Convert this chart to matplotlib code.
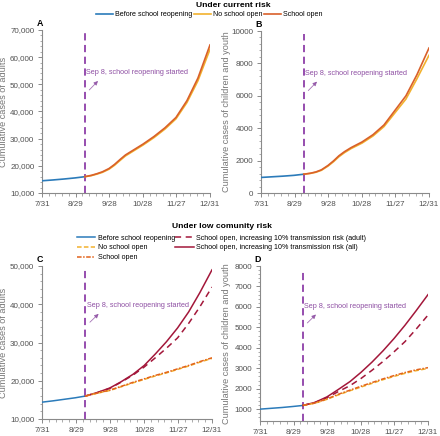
import matplotlib
matplotlib.use("Agg")
import matplotlib.pyplot as plt
from matplotlib.ticker import AutoMinorLocator, FuncFormatter
from matplotlib.lines import Line2D

plt.rcParams['font.family'] = ['Liberation Sans', 'DejaVu Sans']

# ---------------- data ----------------
tick_labels = ["7/31", "8/29", "9/28", "10/28", "11/27", "12/31"]
day_end = 153
reopen_day = 39

days_before = [0, 10, 20, 30, 39]
days_after_ab = [39, 45, 50, 55, 61, 66, 71, 76, 82, 92, 102, 112, 122, 132, 142, 153]
days_after_cd = [39, 50, 61, 71, 82, 92, 102, 112, 122, 132, 142, 153]

# Panel A: adults, current risk
a_before = [14500, 14800, 15150, 15550, 16000]
a_no_school = [16000, 16400, 16950, 17600, 18750, 20200, 21950, 23650, 25150, 27650,
               30400, 33550, 37300, 43300, 51300, 62900]
a_school = [16000, 16500, 17100, 17800, 19000, 20500, 22300, 24000, 25500, 28000,
            30800, 34000, 37800, 44000, 52300, 64500]

# Panel B: children and youth, current risk
b_before = [960, 1000, 1040, 1090, 1160]
b_no_school = [1160, 1210, 1280, 1400, 1660, 1930, 2240, 2490, 2740, 3080,
               3520, 4100, 4950, 5800, 7050, 8500]
b_school = [1160, 1220, 1300, 1430, 1700, 1980, 2300, 2550, 2800, 3150,
            3600, 4200, 5100, 6000, 7300, 8950]

# Panel C: adults, low community risk
c_before = [14400, 14750, 15150, 15550, 16000]
c_no_school = [16000, 16750, 17450, 18400, 19450, 20350, 21250, 22050, 22950, 23850, 24850, 25850]
c_school = [16000, 16800, 17550, 18500, 19600, 20500, 21400, 22200, 23100, 24000, 25000, 26000]
c_adult10 = [16000, 16900, 18000, 19600, 21500, 23600, 26000, 28500, 31200, 35000, 39300, 44500]
c_all10 = [16000, 16950, 18100, 19700, 21700, 24000, 27000, 30200, 33800, 38000, 43000, 49000]

# Panel D: children and youth, low community risk
d_before = [1000, 1040, 1080, 1130, 1180]
d_no_school = [1180, 1290, 1480, 1690, 1900, 2080, 2260, 2440, 2600, 2750, 2880, 2990]
d_school = [1180, 1300, 1500, 1720, 1930, 2120, 2300, 2480, 2640, 2790, 2920, 3030]
d_adult10 = [1180, 1320, 1560, 1850, 2150, 2500, 2900, 3330, 3800, 4300, 4900, 5600]
d_all10 = [1180, 1330, 1600, 1950, 2350, 2800, 3300, 3850, 4450, 5100, 5800, 6600]

# ---------------- style ----------------
BLUE = "#2B7BBA"
YELLOW = "#F2B22E"
ORANGE = "#D9602A"
ORANGE_DD = "#E2631C"
DARKRED = "#A3173A"
PURPLE = "#8E3FA8"
TEXT_PURPLE = "#8E4FA3"
GRAY = "#8a8a8a"
TICK = "#505050"

W, H = 440, 436
fig = plt.figure(figsize=(W / 100, H / 100), dpi=100)
fig.patch.set_facecolor("white")


def px_axes(l, t, r, b):
    return fig.add_axes([l / W, 1 - b / H, (r - l) / W, (b - t) / H])


def style(ax, ylim, yticks, comma, ylabel, letter, ylab_x):
    ax.set_xlim(0, day_end)
    ax.set_ylim(*ylim)
    xt = [day_end * i / 5 for i in range(6)]
    ax.set_xticks(xt)
    ax.set_xticklabels(tick_labels)
    ax.set_yticks(yticks)
    if comma:
        ax.yaxis.set_major_formatter(FuncFormatter(lambda v, p: f"{int(v):,}"))
    else:
        ax.yaxis.set_major_formatter(FuncFormatter(lambda v, p: f"{int(v)}"))
    ax.xaxis.set_minor_locator(AutoMinorLocator(5))
    ax.yaxis.set_minor_locator(AutoMinorLocator(5))
    for s in ["top", "right"]:
        ax.spines[s].set_visible(False)
    for s in ["left", "bottom"]:
        ax.spines[s].set_color(GRAY)
        ax.spines[s].set_linewidth(0.8)
    ax.tick_params(axis="both", which="major", labelsize=5.8, colors=GRAY,
                   labelcolor=TICK, length=3, width=0.7, pad=2.5)
    ax.tick_params(axis="both", which="minor", colors=GRAY, length=1.8, width=0.5)
    ax.set_ylabel(ylabel, fontsize=6.6, color="#777777")
    ax.yaxis.set_label_coords(ylab_x, 0.5)
    ax.text(-0.015, 1.01, letter, transform=ax.transAxes, fontsize=6.4,
            fontweight="bold", ha="center", va="bottom")
    ax.axvline(reopen_day, color=PURPLE, lw=1.3, ls=(0, (4, 2.5)), ymax=0.98, zorder=1)
    ax.annotate("", xy=(0.345, 0.70), xytext=(0.27, 0.62), xycoords="axes fraction",
                arrowprops=dict(arrowstyle="-|>", color=TEXT_PURPLE, lw=0.6,
                                mutation_scale=6, alpha=0.8))
    ax.text(0.262, 0.74, "Sep 8, school reopening started", transform=ax.transAxes,
            fontsize=5.2, color=TEXT_PURPLE, va="center", ha="left")


# Panel A
axA = px_axes(42, 30, 210, 193)
axA.plot(days_before, a_before, color=BLUE, lw=1.2, zorder=3)
axA.plot(days_after_ab, a_no_school, color=YELLOW, lw=1.2, zorder=3)
axA.plot(days_after_ab, a_school, color=ORANGE, lw=1.2, zorder=3)
style(axA, (10000, 70000), range(10000, 70001, 10000), True,
      "Cumulative cases of adults", "A", -0.2)

# Panel B
axB = px_axes(261, 31, 429, 193)
axB.plot(days_before, b_before, color=BLUE, lw=1.2, zorder=3)
axB.plot(days_after_ab, b_no_school, color=YELLOW, lw=1.2, zorder=3)
axB.plot(days_after_ab, b_school, color=ORANGE, lw=1.2, zorder=3)
style(axB, (0, 10000), range(0, 10001, 2000), False,
      "Cumulative cases of children and youth", "B", -0.18)

ls_no = (0, (3, 1.5))
ls_sch = (0, (3, 1, 1, 1))
ls_adult = (0, (4, 3))

# Panel C
axC = px_axes(42, 266, 212, 419)
axC.plot(days_before, c_before, color=BLUE, lw=1.1, zorder=3)
axC.plot(days_after_cd, c_all10, color=DARKRED, lw=1.1, zorder=3)
axC.plot(days_after_cd, c_adult10, color=DARKRED, lw=1.1, ls=ls_adult, zorder=3)
axC.plot(days_after_cd, c_no_school, color=YELLOW, lw=1.1, ls=ls_no, zorder=3)
axC.plot(days_after_cd, c_school, color=ORANGE_DD, lw=1.1, ls=ls_sch, zorder=3)
style(axC, (10000, 50000), range(10000, 50001, 10000), True,
      "Cumulative cases of adults", "C", -0.2)

# Panel D
axD = px_axes(260, 266, 428, 421)
axD.plot(days_before, d_before, color=BLUE, lw=1.1, zorder=3)
axD.plot(days_after_cd, d_all10, color=DARKRED, lw=1.1, zorder=3)
axD.plot(days_after_cd, d_adult10, color=DARKRED, lw=1.1, ls=ls_adult, zorder=3)
axD.plot(days_after_cd, d_no_school, color=YELLOW, lw=1.1, ls=ls_no, zorder=3)
axD.plot(days_after_cd, d_school, color=ORANGE_DD, lw=1.1, ls=ls_sch, zorder=3)
style(axD, (420, 8000), range(1000, 8001, 1000), False,
      "Cumulative cases of children and youth", "D", -0.175)

# Titles and legends
fig.text(233 / W, 1 - 5.5 / H, "Under current risk", fontsize=6.1, fontweight="bold",
         ha="center", va="center")
h_top = [Line2D([], [], color=BLUE, lw=1.2),
         Line2D([], [], color=YELLOW, lw=1.2),
         Line2D([], [], color=ORANGE, lw=1.2)]
fig.legend(h_top, ["Before school reopening", "No school open", "School open"],
           loc="center left", bbox_to_anchor=(96 / W, 1 - 14.5 / H), ncol=3, frameon=False,
           fontsize=5.1, handlelength=2.4, handletextpad=0.3, columnspacing=0.2,
           borderpad=0, borderaxespad=0)

fig.text(222 / W, 1 - 226 / H, "Under low comunity risk", fontsize=6.1, fontweight="bold",
         ha="center", va="center")
h_bot = [Line2D([], [], color=BLUE, lw=1.1),
         Line2D([], [], color=YELLOW, lw=1.1, ls=ls_no),
         Line2D([], [], color=ORANGE_DD, lw=1.1, ls=ls_sch),
         Line2D([], [], color=DARKRED, lw=1.1, ls=ls_adult),
         Line2D([], [], color=DARKRED, lw=1.1)]
fig.legend(h_bot, ["Before school reopening", "No school open", "School open",
                   "School open, increasing 10% transmission risk (adult)",
                   "School open, increasing 10% transmission risk (all)"],
           loc="upper left", bbox_to_anchor=(77 / W, 1 - 234.5 / H), ncol=2, frameon=False,
           fontsize=5.1, handlelength=2.6, handletextpad=0.3, columnspacing=0.05,
           labelspacing=0.4, borderpad=0, borderaxespad=0)

fig.savefig("out.png", dpi=100, facecolor="white")
